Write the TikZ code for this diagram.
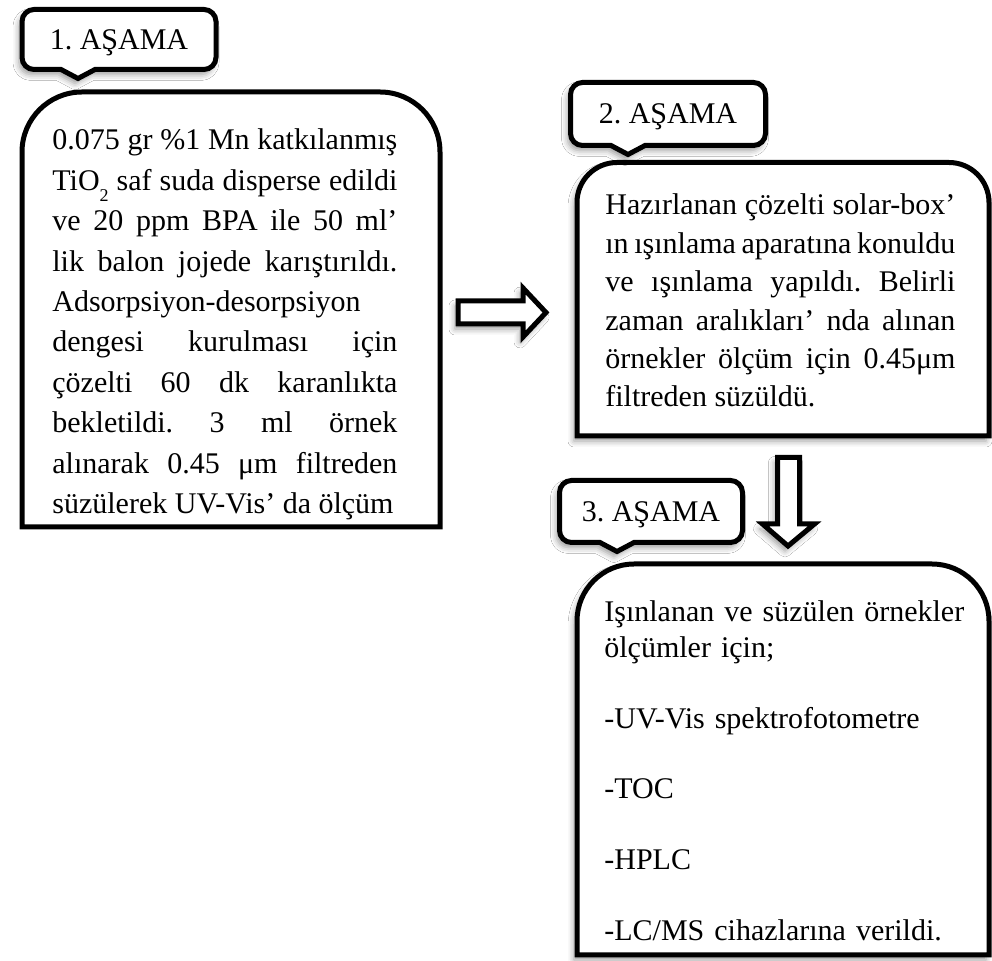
\documentclass[tikz,border=0pt]{standalone}
\usepackage{fontspec}
\setmainfont{Liberation Serif}
\usetikzlibrary{shadows.blur}

\frenchspacing
\tolerance=10000
\hbadness=10000
\hyphenpenalty=10000
\exhyphenpenalty=10000

\newcommand{\lowsub}[1]{\raisebox{-0.38em}{\fontsize{9}{9}\selectfont #1}}

\tikzset{
  panel/.style={draw=black, line width=2.5pt, fill=white},
  tabbox/.style={draw=black, line width=2.5pt, fill=white},
  blockarrow/.style={draw=black, line width=2.5pt, fill=white, line join=miter},
  softshadow/.style={blur shadow={shadow xshift=-1.5pt, shadow yshift=-2.5pt,
      shadow blur radius=3pt, shadow opacity=40}},
  tablabel/.style={inner sep=0pt, anchor=base, font=\fontsize{15}{18}\selectfont},
  bodytext/.style={inner sep=0pt, anchor=base west, align=justify,
      font=\fontsize{15}{#1}\selectfont}
}

% stage panel: left, top, right, bottom, corner radius (top corners only)
\newcommand{\stagepanel}[6][]{
  \draw[panel, #1] (#2,#5) -- (#2,#3-#6) arc(180:90:#6) -- (#4-#6,#3)
    arc(90:0:#6) -- (#4,#5) -- cycle;
}
% callout tab: name, text, left, top, right, bottom, pointer x
\newcommand{\stagetab}[7]{
  \draw[tabbox, softshadow] (#7-17,#6) -- (#3+12,#6) arc(270:180:12) -- (#3,#4-12)
    arc(180:90:12) -- (#5-12,#4) arc(90:0:12) -- (#5,#6+12) arc(0:-90:12)
    -- (#7+17,#6) -- (#7,#6-9) -- cycle;
  \node[tablabel] (#1) at ({(#3+#5)/2},{(#4+#6)/2-10}) {#2};
}

\begin{document}
\begin{tikzpicture}[x=0.5pt, y=0.5pt]
  \useasboundingbox[fill=white] (0,0) rectangle (992,-961);

  % -------------------------------------------------------------------
  % panels
  % -------------------------------------------------------------------
  \stagepanel{22}{-92}{440}{-527}{60}
  \stagepanel[softshadow]{577}{-162.5}{989}{-436}{40}
  \stagepanel[softshadow]{577}{-564}{989}{-955}{57}

  \node[bodytext=20.2, text width=172.5pt] (stepone) at (52,-150) {\parfillskip=0pt
    0.075 gr \%1 Mn katkılanmış\linebreak
    TiO\lowsub{2} saf suda disperse edildi\linebreak
    ve 20 ppm BPA ile 50 ml’\linebreak
    lik balon jojede karıştırıldı.\linebreak
    Adsorpsiyon-desorpsiyon\linebreak
    dengesi kurulması için\linebreak
    çözelti 60 dk karanlıkta\linebreak
    bekletildi. 3 ml örnek\linebreak
    alınarak 0.45 μm filtreden\linebreak
    süzülerek UV-Vis’ da ölçüm};

  \node[bodytext=19.2, text width=175pt] (steptwo) at (605,-215) {
    Hazırlanan çözelti solar-box’\linebreak
    ın ışınlama aparatına konuldu\linebreak
    ve ışınlama yapıldı. Belirli\linebreak
    zaman aralıkları’ nda alınan\linebreak
    örnekler ölçüm için 0.45μm\linebreak
    filtreden süzüldü.};

  \node[bodytext=17.7, align=left, text width=180pt] (stepthree) at (604,-622) {
    Işınlanan ve süzülen örnekler\\
    ölçümler için;\\[17.7pt]
    -UV-Vis spektrofotometre\\[17.7pt]
    -TOC\\[17.7pt]
    -HPLC\\[17.7pt]
    -LC/MS cihazlarına verildi.};

  % -------------------------------------------------------------------
  % tabs
  % -------------------------------------------------------------------
  \stagetab{tabone}{1. AŞAMA}{22}{-9.5}{216}{-69.5}{78}
  \stagetab{tabtwo}{2. AŞAMA}{570.5}{-82.5}{765.5}{-145.5}{628}
  \stagetab{tabthree}{3. AŞAMA}{559.5}{-480.5}{742.5}{-542.5}{617}

  % -------------------------------------------------------------------
  % block arrows
  % -------------------------------------------------------------------
  \draw[blockarrow, softshadow] (458,-301) -- (523,-301) -- (523,-288) -- (546,-312.5)
    -- (523,-337) -- (523,-324) -- (458,-324) -- cycle;
  \draw[blockarrow, softshadow] (777.5,-457.5) -- (799.5,-457.5) -- (799.5,-524)
    -- (814.5,-524) -- (788,-546) -- (762.5,-524) -- (777.5,-524) -- cycle;
\end{tikzpicture}
\end{document}
